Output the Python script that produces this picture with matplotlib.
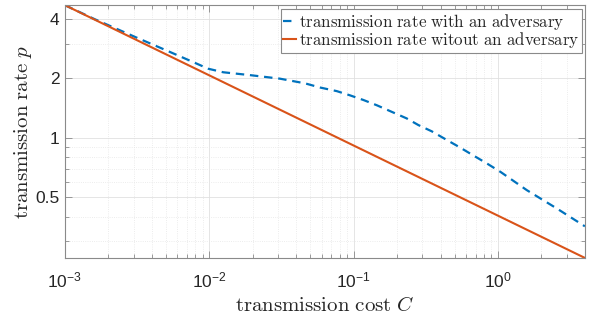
import math
import matplotlib
matplotlib.use("Agg")
import matplotlib.pyplot as plt
from matplotlib.ticker import FixedLocator, LogLocator, NullFormatter, FuncFormatter

# values (log-log axes)
cost_adv = [1e-3, 1.61e-3, 3.14e-3, 5.07e-3, 7.55e-3, 9.85e-3, 1.25e-2, 1.91e-2,
            3.09e-2, 4.6e-2, 5.85e-2, 7.64e-2, 9.44e-2, 0.117, 0.145, 0.184,
            0.233, 0.281, 0.348, 0.430, 0.541, 0.676, 0.845, 1.045, 1.585,
            2.55, 4.0]
rate_adv = [4.7, 3.99, 3.22, 2.77, 2.44, 2.24, 2.15, 2.08,
            1.995, 1.89, 1.80, 1.726, 1.643, 1.556, 1.463, 1.355,
            1.256, 1.162, 1.080, 0.988, 0.898, 0.815, 0.740, 0.672, 0.544,
            0.44, 0.357]

cost_noadv = [1e-3, 4.0]
rate_noadv = [4.7, 0.247]

legend_labels = [r"$\mathrm{transmission\ rate\ with\ an\ adversary}$",
                 r"$\mathrm{transmission\ rate\ witout\ an\ adversary}$"]
y_ticks = [0.5, 1, 2, 4]
y_ticklabels = ["0.5", "1", "2", "4"]
y_minor = [0.3, 0.4, 0.6, 0.7, 0.8, 0.9, 3]

plt.rcParams["font.family"] = "Liberation Sans"
plt.rcParams["mathtext.fontset"] = "custom"
plt.rcParams["mathtext.rm"] = "Liberation Sans"
plt.rcParams["mathtext.it"] = "Liberation Sans:italic"
plt.rcParams["mathtext.sf"] = "Liberation Sans"

fig = plt.figure(figsize=(5.95, 3.22), dpi=100)
ax = fig.add_axes([0.109, 0.199, 0.874, 0.785])

ax.plot(cost_adv, rate_adv, color="#0072BD", lw=1.6, ls=(0, (3.8, 2.6)),
        label=legend_labels[0])
ax.plot(cost_noadv, rate_noadv, color="#D95319", lw=1.5, label=legend_labels[1])

ax.set_xscale("log")
ax.set_yscale("log")
ax.set_xlim(1e-3, 4.0)
ax.set_ylim(0.247, 4.7)

ax.xaxis.set_major_locator(LogLocator(base=10, numticks=10))
ax.xaxis.set_minor_locator(LogLocator(base=10, subs=range(2, 10), numticks=20))
ax.xaxis.set_minor_formatter(NullFormatter())
ax.xaxis.set_major_formatter(FuncFormatter(lambda v, p: r"$10^{%d}$" % round(math.log10(v))))

ax.yaxis.set_major_locator(FixedLocator(y_ticks))
ax.set_yticklabels(y_ticklabels)
ax.yaxis.set_minor_locator(FixedLocator(y_minor))
ax.yaxis.set_minor_formatter(NullFormatter())

ax.tick_params(which="both", direction="in", top=True, right=True, colors="#8a8a8a",
               labelcolor="#262626", labelsize=12.5)
ax.tick_params(which="major", length=5, width=0.6)
ax.tick_params(which="minor", length=3, width=0.6)
ax.tick_params(axis="x", pad=9)
ax.tick_params(axis="y", pad=4)

ax.grid(True, which="major", color="#e0e0e0", lw=0.6, ls="-")
ax.grid(True, which="minor", color="#e6e6e6", lw=0.6, ls=":")
ax.set_axisbelow(True)

for s in ax.spines.values():
    s.set_color("#8a8a8a")
    s.set_linewidth(0.8)

ax.set_xlabel(r"$\mathrm{transmission\ cost}\ C$", fontsize=15, color="#262626",
              math_fontfamily="cm", labelpad=4)
ax.set_ylabel(r"$\mathrm{transmission\ rate}\ p$", fontsize=15, color="#262626",
              math_fontfamily="cm", labelpad=1)

leg = ax.legend(loc="upper right", bbox_to_anchor=(0.997, 0.99), fontsize=12.2,
                frameon=True, fancybox=False, edgecolor="#8a8a8a", framealpha=1,
                handlelength=0.75, handletextpad=0.15, borderpad=0.15,
                labelspacing=-0.1, borderaxespad=0.1)
leg.get_frame().set_linewidth(0.8)
for t in leg.get_texts():
    t.set_math_fontfamily("cm")
    t.set_color("#262626")

fig.savefig("out.png", dpi=100)
